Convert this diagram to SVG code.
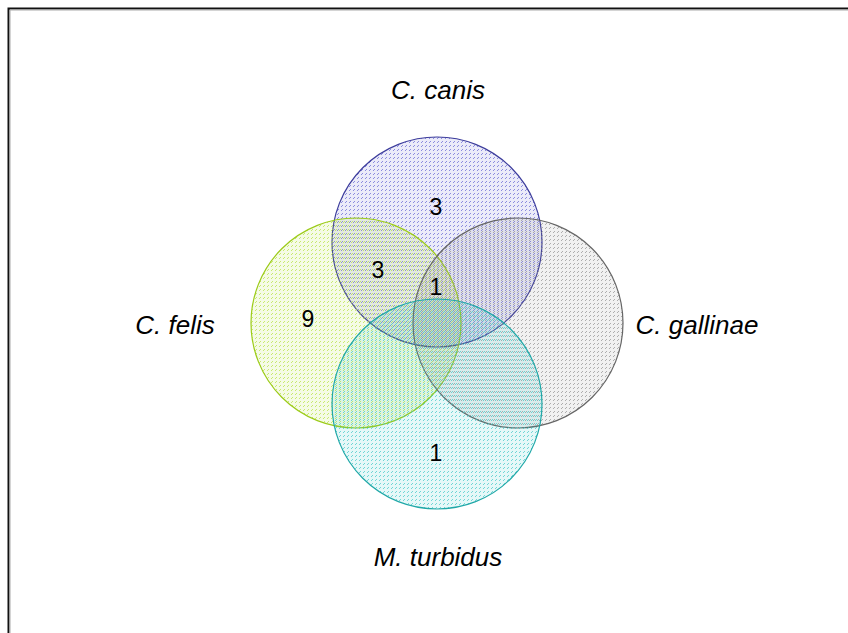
<svg xmlns="http://www.w3.org/2000/svg" width="848" height="633" viewBox="0 0 848 633">
<defs>
<style>
.lbl{font-family:"Liberation Sans",Arial,sans-serif;font-style:italic;font-size:26px;fill:#000;text-anchor:middle}
.num{font-family:"Liberation Sans",Arial,sans-serif;font-size:23px;fill:#000;text-anchor:middle}
.c{stroke-width:1.2}
.t{stroke:none;fill-opacity:0.12}
</style>
<pattern id="pb" x="0" y="0" width="4" height="4" patternUnits="userSpaceOnUse"><rect x="1" y="2" width="1" height="1" fill="#5858d0"/><rect x="2" y="1" width="1" height="1" fill="#5858d0"/></pattern>
<pattern id="pg" x="2" y="0" width="4" height="4" patternUnits="userSpaceOnUse"><rect x="1" y="2" width="1" height="1" fill="#b0e030"/><rect x="2" y="1" width="1" height="1" fill="#b0e030"/></pattern>
<pattern id="pk" x="0" y="2" width="4" height="4" patternUnits="userSpaceOnUse"><rect x="1" y="2" width="1" height="1" fill="#888"/><rect x="2" y="1" width="1" height="1" fill="#888"/></pattern>
<pattern id="pt" x="2" y="2" width="4" height="4" patternUnits="userSpaceOnUse"><rect x="1" y="2" width="1" height="1" fill="#30c4c4"/><rect x="2" y="1" width="1" height="1" fill="#30c4c4"/></pattern>
</defs>
<rect width="848" height="633" fill="#fff"/>
<path d="M8.5,633 V8.5 H848" fill="none" stroke="#111" stroke-width="2"/>
<path d="M10,633 V10 H848" fill="none" stroke="#aaa" stroke-width="1"/>
<g id="canis"><circle class="t" cx="437" cy="242" r="105" fill="#5858d0"/><circle class="c" cx="437" cy="242" r="105" fill="url(#pb)" fill-opacity="0.65" stroke="#3d3d9c"/></g>
<g id="felis"><circle class="t" cx="356" cy="323" r="105" fill="#b0e030"/><circle class="c" cx="356" cy="323" r="105" fill="url(#pg)" fill-opacity="0.65" stroke="#9ccb19"/></g>
<g id="gallinae"><circle class="t" cx="518" cy="323" r="105" fill="#888"/><circle class="c" cx="518" cy="323" r="105" fill="url(#pk)" fill-opacity="0.65" stroke="#666"/></g>
<g id="turbidus"><circle class="t" cx="437" cy="404" r="105" fill="#30c4c4"/><circle class="c" cx="437" cy="404" r="105" fill="url(#pt)" fill-opacity="0.65" stroke="#20a8a8"/></g>
<g id="labels">
<text class="lbl" x="438" y="99">C. canis</text>
<text class="lbl" x="175" y="334">C. felis</text>
<text class="lbl" x="697" y="334">C. gallinae</text>
<text class="lbl" x="438" y="566">M. turbidus</text>
</g>
<g id="counts">
<text class="num" x="436" y="215">3</text>
<text class="num" x="378" y="278">3</text>
<text class="num" x="436" y="295">1</text>
<text class="num" x="308" y="327">9</text>
<text class="num" x="436" y="461">1</text>
</g>
<g id="connectors"/>
</svg>
